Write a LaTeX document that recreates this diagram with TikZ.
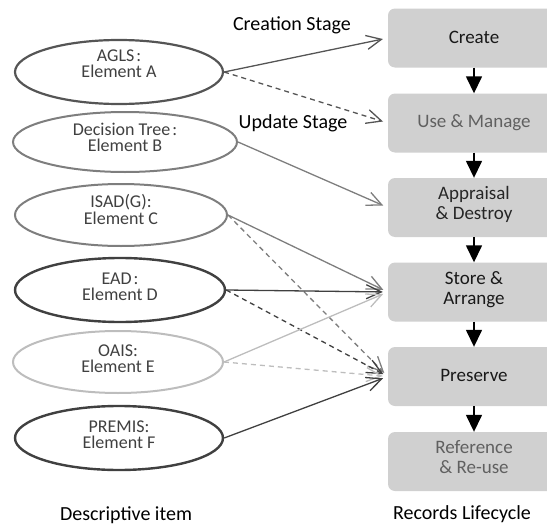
\documentclass[tikz,border=0pt]{standalone}
\usepackage{fontspec}
\setmainfont{Carlito}
\usetikzlibrary{shapes.geometric,arrows.meta}
\definecolor{boxfill}{HTML}{D0D0D0}
\definecolor{itemtext}{HTML}{404040}
\definecolor{cdark}{HTML}{404040}
\definecolor{cmid}{HTML}{555555}
\definecolor{cgray}{HTML}{7E7E7E}
\definecolor{clight}{HTML}{BDBDBD}
\definecolor{stagedim}{HTML}{606060}
% lift a two-line label without changing its box
\newcommand{\liftlabel}[2]{\raisebox{#1}[\height][\depth]{\begin{tabular}{@{}c@{}}#2\end{tabular}}}
\begin{document}
\begin{tikzpicture}[x=1pt,y=-1pt,
  item/.style={ellipse,draw,line width=2.2pt,inner sep=0pt,align=center,
    font=\fontsize{18}{17}\selectfont,text=itemtext},
  stagebox/.style={rectangle,rounded corners=7pt,fill=boxfill,minimum width=172pt,
    minimum height=59pt,align=center,font=\fontsize{19}{20}\selectfont,text=black!90},
  flow/.style={line width=1.5pt,-{Triangle[length=17pt,width=16pt]}},
  link/.style={line width=1.3pt,-{Straight Barb[length=15pt,width=14pt]},shorten >=5pt},
  dash link/.style={link,dash pattern=on 5pt off 4pt},
  caption/.style={font=\fontsize{20}{22}\selectfont,anchor=base},
]
\useasboundingbox (0,0) rectangle (547,525);

% descriptive items
\node[item,draw=cmid,minimum width=208pt,minimum height=64pt] (A) at (119,72)
  {\liftlabel{6pt}{AGLS\kern2pt:\\[-1pt]Element A}};
\node[item,draw=cgray,line width=2pt,minimum width=224pt,minimum height=60pt] (B) at (125,142)
  {\liftlabel{2pt}{Decision Tree\kern2pt:\\[-1pt]Element B}};
\node[item,draw=cgray,line width=2pt,minimum width=212pt,minimum height=62pt] (C) at (121,215)
  {\liftlabel{3pt}{ISAD(G):\\[-1pt]Element C}};
\node[item,draw=cdark,line width=2.4pt,minimum width=210pt,minimum height=64pt] (D) at (120,290)
  {\liftlabel{1pt}{EAD\kern2pt:\\[-1pt]Element D}};
\node[item,draw=clight,line width=2pt,minimum width=210pt,minimum height=62pt] (E) at (118,362)
  {\liftlabel{1pt}{OAIS:\\[-1pt]Element E}};
\node[item,draw=cdark,line width=2.4pt,minimum width=208pt,minimum height=64pt] (F) at (119,438)
  {\liftlabel{1pt}{PREMIS:\\[-1pt]Element F}};

% records lifecycle stages
\node[stagebox] (create) at (474,38) {\raisebox{2pt}{Create}};
\node[stagebox,text=stagedim] (use) at (474,123) {\raisebox{2pt}{Use \& Manage}};
\node[stagebox,text=black!85] (appraise) at (474,207.5) {\liftlabel{2pt}{Appraisal\\\& Destroy}};
\node[stagebox] (store) at (474,292) {\liftlabel{2pt}{Store \&\\Arrange}};
\node[stagebox] (preserve) at (474,376.5) {\raisebox{2pt}{Preserve}};
\node[stagebox,text=stagedim] (reuse) at (474,461.5) {\liftlabel{2pt}{Reference\\\& Re-use}};

\draw[flow] (create.south) -- (use.north);
\draw[flow] (use.south) -- (appraise.north);
\draw[flow] (appraise.south) -- (store.north);
\draw[flow] (store.south) -- (preserve.north);
\draw[flow] (preserve.south) -- (reuse.north);

% mappings from items to stages
\draw[link,cmid] (A.east) -- (create.west);
\draw[dash link,cmid] (A.east) -- (use.west);
\draw[link,cgray] (B.east) -- (appraise.west);
\draw[link,cgray] (C.east) -- (store.west);
\draw[dash link,cgray] (C.east) -- (preserve.west);
\draw[link,cdark] (D.east) -- (store.west);
\draw[dash link,cdark] (D.east) -- (preserve.west);
\draw[link,clight] (E.east) -- (store.west);
\draw[dash link,clight] (E.east) -- (preserve.west);
\draw[link,cdark] (F.east) -- (preserve.west);

% captions
\node[caption] (creation) at (292,30) {Creation Stage};
\node[caption] (update) at (293,128) {Update Stage};
\node[caption] (itemcap) at (126,520) {Descriptive item};
\node[caption] (lifecap) at (462,519) {Records Lifecycle};
\end{tikzpicture}
\end{document}
